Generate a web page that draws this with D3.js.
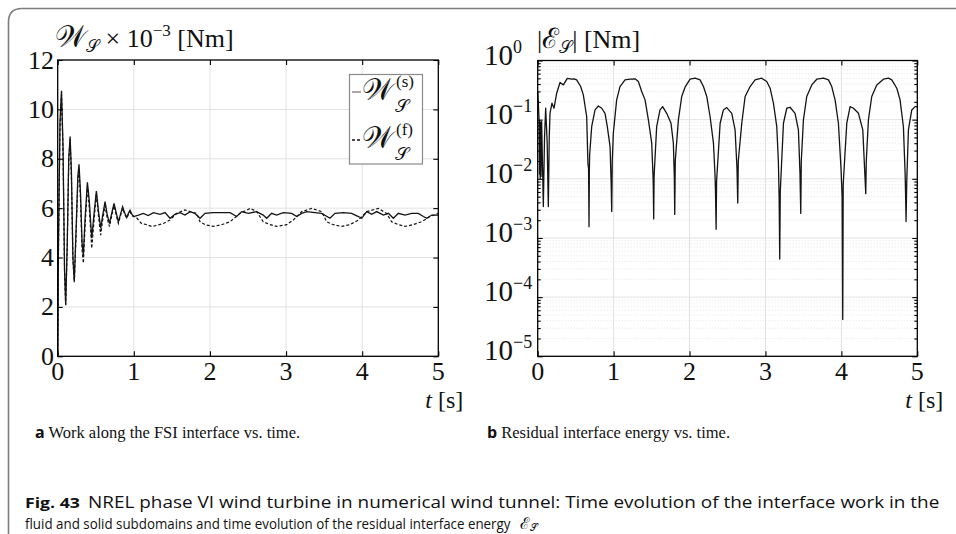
<!DOCTYPE html>
<html><head><meta charset="utf-8">
<script src="https://cdn.jsdelivr.net/npm/d3@7"></script>
<style>body{margin:0;background:#fff}svg{display:block}</style>
</head><body>
<svg id="c" width="956" height="534"></svg>
<script>
// ---------------- DATA ----------------
const xTicks = [0, 1, 2, 3, 4, 5];
const leftYTicks = [0, 2, 4, 6, 8, 10, 12];
const rightYExponents = [0, -1, -2, -3, -4, -5];

// Work on solid side, W_S^(s) x 1e-3 [Nm]
const solidT = [0,0.01,0.03,0.05,0.07,0.09,0.105,0.125,0.145,0.163,0.18,0.2,0.218,0.24,0.265,0.28,0.3,0.32,0.337,0.36,0.39,0.415,0.447,0.475,0.508,0.535,0.565,0.59,0.622,0.65,0.68,0.71,0.74,0.77,0.797,0.825,0.853,0.88,0.907,0.93,0.95,0.975,
 1.0,1.06,1.125,1.19,1.257,1.345,1.41,1.475,1.54,1.607,1.672,1.74,1.8,1.87,1.935,2.045,2.155,2.264,2.351,2.417,2.504,2.614,2.7,2.746,2.81,2.876,2.964,3.074,3.14,3.205,3.27,3.38,3.468,3.577,3.643,3.753,3.862,3.95,3.994,4.06,4.125,4.19,4.28,4.344,4.41,4.475,4.563,4.65,4.738,4.804,4.848,4.914,5.0];
const solidV = [0,4.5,9.5,10.75,8.5,3.5,2.07,4.5,8.0,8.9,7.5,4.0,3.05,5.0,7.3,7.78,6.6,4.6,4.1,5.6,7.05,6.3,4.78,5.7,6.69,5.9,5.18,5.7,6.26,5.75,5.38,5.8,6.19,5.8,5.45,5.75,6.06,5.8,5.62,5.8,5.92,5.75,
 5.66,5.72,5.79,5.70,5.82,5.75,5.82,5.59,5.75,5.82,5.72,5.86,5.79,5.59,5.79,5.82,5.82,5.82,5.66,5.86,5.79,5.86,5.72,5.59,5.79,5.72,5.82,5.79,5.66,5.79,5.86,5.82,5.79,5.59,5.79,5.82,5.79,5.66,5.59,5.86,5.75,5.86,5.72,5.79,5.59,5.79,5.72,5.79,5.79,5.66,5.59,5.72,5.72];

// Work on fluid side, W_S^(f) x 1e-3 [Nm]
const fluidT = [0,0.01,0.03,0.05,0.07,0.09,0.105,0.125,0.145,0.163,0.18,0.2,0.218,0.24,0.265,0.28,0.3,0.32,0.337,0.36,0.39,0.415,0.447,0.475,0.508,0.535,0.565,0.59,0.622,0.65,0.68,0.71,0.74,0.77,0.797,0.825,0.853,0.88,0.907,0.93,0.95,0.975,
 1.0,1.04,1.1,1.17,1.235,1.3,1.388,1.475,1.563,1.672,1.74,1.826,1.87,1.935,2.045,2.155,2.264,2.395,2.53,2.614,2.7,2.79,2.876,3.008,3.096,3.205,3.337,3.468,3.534,3.62,3.73,3.84,3.95,4.06,4.212,4.32,4.387,4.475,4.563,4.67,4.78,4.89,5.0];
const fluidV = [0,4.3,9.3,10.6,8.3,3.4,2.1,4.4,7.9,8.8,7.3,3.9,3.0,4.8,7.1,7.6,6.3,4.3,3.77,5.3,6.9,6.0,4.37,5.4,6.6,5.7,4.91,5.5,6.1,5.6,5.25,5.7,6.1,5.7,5.38,5.7,6.0,5.75,5.6,5.75,5.85,5.7,
 5.66,5.6,5.38,5.33,5.26,5.30,5.38,5.52,5.79,5.93,5.86,5.79,5.45,5.33,5.26,5.33,5.45,5.79,5.99,5.86,5.45,5.33,5.26,5.33,5.52,5.86,5.99,5.86,5.45,5.33,5.26,5.33,5.52,5.86,5.99,5.79,5.45,5.33,5.26,5.33,5.45,5.66,5.79];

// Residual interface energy |E_S| [Nm]
const resT = [0,0.006,0.018,0.024,0.028,0.033,0.038,0.044,0.052,0.074,0.09,0.105,0.125,0.14,0.152,0.162,0.188,0.215,0.25,0.294,0.338,0.39,0.447,0.48,0.513,0.566,0.601,0.645,0.662,0.67,0.676,0.68,0.684,
 0.711,0.755,0.799,0.843,0.887,0.917,0.953,0.968,0.975,0.982,
 0.996,1.04,1.084,1.15,1.216,1.282,1.326,1.37,1.414,1.458,1.502,1.518,1.522,1.528,1.533,
 1.567,1.611,1.646,1.699,1.756,1.787,1.8,1.805,1.812,
 1.853,1.897,1.941,2.007,2.073,2.139,2.183,2.227,2.271,2.315,2.335,2.342,2.35,2.356,
 2.403,2.446,2.49,2.556,2.6,2.625,2.635,2.642,
 2.688,2.732,2.798,2.863,2.951,3.017,3.061,3.105,3.149,3.17,3.18,3.188,3.195,
 3.237,3.281,3.324,3.39,3.434,3.455,3.465,3.472,
 3.5,3.544,3.61,3.676,3.764,3.83,3.873,3.917,3.961,3.995,4.01,4.018,4.024,
 4.071,4.115,4.159,4.225,4.282,4.312,4.321,4.328,
 4.356,4.4,4.466,4.554,4.62,4.664,4.73,4.773,4.817,4.84,4.845,4.852,4.857,4.862,
 4.883,4.927,4.971,5.0];
const resV = [0.30,0.22,0.10,0.012,0.095,0.010,0.09,0.011,0.093,0.0034,0.05,0.156,0.04,0.0034,0.05,0.128,0.19,0.156,0.28,0.425,0.387,0.50,0.483,0.49,0.471,0.363,0.262,0.113,0.018,0.015,0.00155,0.0123,0.025,
 0.076,0.146,0.170,0.156,0.128,0.076,0.035,0.008,0.0028,0.02,
 0.059,0.216,0.363,0.471,0.483,0.49,0.441,0.30,0.216,0.099,0.040,0.012,0.0085,0.0021,0.011,
 0.076,0.146,0.166,0.128,0.087,0.040,0.01,0.0025,0.02,
 0.099,0.246,0.354,0.483,0.502,0.471,0.363,0.246,0.112,0.040,0.012,0.006,0.0014,0.009,
 0.087,0.146,0.16,0.128,0.067,0.015,0.0039,0.02,
 0.087,0.246,0.363,0.471,0.502,0.441,0.34,0.19,0.076,0.02,0.005,0.00044,0.006,
 0.087,0.156,0.162,0.128,0.067,0.012,0.0026,0.02,
 0.099,0.246,0.387,0.483,0.502,0.471,0.363,0.216,0.087,0.015,0.005,0.000042,0.008,
 0.087,0.166,0.156,0.128,0.067,0.01,0.0056,0.02,
 0.099,0.246,0.387,0.483,0.502,0.471,0.34,0.216,0.076,0.012,0.006,0.0019,0.0045,0.01,
 0.067,0.146,0.166,0.166];

// ---------------- DRAWING ----------------
const svg = d3.select("#c");
const SERIF = "'Liberation Serif','DejaVu Serif',serif";
const SANS = "'Open Sans','Noto Sans',sans-serif";
const INK = "#141414";

// outer frame of the figure
svg.append("path")
  .attr("d", "M8.5,534 L8.5,22 Q8.5,8.5 22,8.5 L956,8.5")
  .attr("fill", "none").attr("stroke", "#7d7d7d").attr("stroke-width", 1.6);

const L = {x0: 57.7, x1: 438.3, y0: 356.3, y1: 60};
const R = {x0: 537.7, x1: 917.3, y0: 356.3, y1: 60.5};
const xL = d3.scaleLinear([0, 5], [L.x0, L.x1]);
const yL = d3.scaleLinear([0, 12], [L.y0, L.y1]);
const xR = d3.scaleLinear([0, 5], [R.x0, R.x1]);
const yR = d3.scaleLog([1e-5, 1], [R.y0, R.y1]);

// ---- grids ----
const grid = svg.append("g").attr("stroke", "#e2e2e2").attr("stroke-width", 1);
grid.selectAll(".gvl").data(xTicks.slice(1, -1)).join("line")
  .attr("x1", d => xL(d)).attr("x2", d => xL(d)).attr("y1", L.y0).attr("y2", L.y1);
grid.selectAll(".ghl").data(leftYTicks.slice(1, -1)).join("line").attr("class","ghl")
  .attr("x1", L.x0).attr("x2", L.x1).attr("y1", d => yL(d)).attr("y2", d => yL(d));

const minorVals = [];
for (let e = -5; e < 0; e++) for (let m = 2; m <= 9; m++) minorVals.push(m * Math.pow(10, e));
svg.append("g").attr("stroke", "#e4e4e4").attr("stroke-width", 1).attr("stroke-dasharray", "1,2")
  .selectAll("line").data(minorVals).join("line")
  .attr("x1", R.x0).attr("x2", R.x1).attr("y1", d => yR(d)).attr("y2", d => yR(d));
const gridR = svg.append("g").attr("stroke", "#e2e2e2").attr("stroke-width", 1);
gridR.selectAll(".gvr").data(xTicks.slice(1, -1)).join("line").attr("class","gvr")
  .attr("x1", d => xR(d)).attr("x2", d => xR(d)).attr("y1", R.y0).attr("y2", R.y1);
gridR.selectAll(".ghr").data(rightYExponents.slice(1, -1)).join("line").attr("class","ghr")
  .attr("x1", R.x0).attr("x2", R.x1).attr("y1", d => yR(Math.pow(10, d))).attr("y2", d => yR(Math.pow(10, d)));

// ---- data lines ----
const lineL = d3.line().x(d => xL(d[0])).y(d => yL(d[1]));
const lineR = d3.line().x(d => xR(d[0])).y(d => yR(d[1]));
svg.append("path").datum(fluidT.map((t, i) => [t, fluidV[i]])).attr("d", lineL)
  .attr("fill", "none").attr("stroke", INK).attr("stroke-width", 1.2).attr("stroke-dasharray", "3,2");
svg.append("path").datum(solidT.map((t, i) => [t, solidV[i]])).attr("d", lineL)
  .attr("fill", "none").attr("stroke", INK).attr("stroke-width", 1.3);
svg.append("path").datum(resT.map((t, i) => [t, resV[i]])).attr("d", lineR)
  .attr("fill", "none").attr("stroke", INK).attr("stroke-width", 1.3).attr("stroke-linejoin", "round");

// ---- axes (inward ticks on all sides) ----
function styleAxis(g) {
  g.select(".domain").remove();
  g.selectAll(".tick line").attr("stroke", "#000").attr("stroke-width", 1.1);
}
const TK = 5;
svg.append("g").attr("transform", `translate(0,${L.y0})`)
  .call(d3.axisBottom(xL).tickValues(xTicks).tickSize(-TK).tickFormat("")).call(styleAxis);
svg.append("g").attr("transform", `translate(0,${L.y1})`)
  .call(d3.axisTop(xL).tickValues(xTicks).tickSize(-TK).tickFormat("")).call(styleAxis);
svg.append("g").attr("transform", `translate(${L.x0},0)`)
  .call(d3.axisLeft(yL).tickValues(leftYTicks).tickSize(-TK).tickFormat("")).call(styleAxis);
svg.append("g").attr("transform", `translate(${L.x1},0)`)
  .call(d3.axisRight(yL).tickValues(leftYTicks).tickSize(-TK).tickFormat("")).call(styleAxis);

svg.append("g").attr("transform", `translate(0,${R.y0})`)
  .call(d3.axisBottom(xR).tickValues(xTicks).tickSize(-TK).tickFormat("")).call(styleAxis);
svg.append("g").attr("transform", `translate(0,${R.y1})`)
  .call(d3.axisTop(xR).tickValues(xTicks).tickSize(-TK).tickFormat("")).call(styleAxis);
const majorR = rightYExponents.map(e => Math.pow(10, e));
[["L", R.x0, d3.axisLeft], ["R", R.x1, d3.axisRight]].forEach(([k, x, ax]) => {
  svg.append("g").attr("transform", `translate(${x},0)`)
    .call(ax(yR).tickValues(majorR).tickSize(-TK).tickFormat("")).call(styleAxis);
  svg.append("g").attr("transform", `translate(${x},0)`)
    .call(ax(yR).tickValues(minorVals).tickSize(-3).tickFormat("")).call(styleAxis);
});

// plot boxes
svg.append("rect").attr("x", L.x0).attr("y", L.y1).attr("width", L.x1 - L.x0).attr("height", L.y0 - L.y1)
  .attr("fill", "none").attr("stroke", "#000").attr("stroke-width", 1.3);
svg.append("rect").attr("x", R.x0).attr("y", R.y1).attr("width", R.x1 - R.x0).attr("height", R.y0 - R.y1)
  .attr("fill", "none").attr("stroke", "#000").attr("stroke-width", 1.3);

// ---- tick labels ----
const tl = svg.append("g").attr("font-family", SERIF).attr("fill", "#111");
tl.selectAll(".xl").data(xTicks).join("text").attr("class","xl")
  .attr("x", d => xL(d)).attr("y", 380).attr("text-anchor", "middle").attr("font-size", 26).text(d => d);
tl.selectAll(".xr").data(xTicks).join("text").attr("class","xr")
  .attr("x", d => xR(d)).attr("y", 380).attr("text-anchor", "middle").attr("font-size", 26).text(d => d);
tl.selectAll(".yl").data(leftYTicks).join("text").attr("class","yl")
  .attr("x", 54).attr("y", d => yL(d) + 8.5).attr("text-anchor", "end").attr("font-size", 26).text(d => d);
const yrl = tl.selectAll(".yr").data(rightYExponents).join("text").attr("class","yr")
  .attr("x", 484).attr("y", d => yR(Math.pow(10, d)) + 4).attr("font-size", 29);
yrl.append("tspan").text("10");
yrl.append("tspan").attr("dy", -12).attr("font-size", 18).text(d => d < 0 ? "\u2212" + (-d) : d);

// axis name labels
[[L.x1 + 25, 408], [R.x1 + 26, 408]].forEach(([x, y]) => {
  const t = svg.append("text").attr("x", x).attr("y", y).attr("text-anchor", "end")
    .attr("font-family", SERIF).attr("font-size", 24).attr("fill", "#111");
  t.append("tspan").attr("font-style", "italic").text("t");
  t.append("tspan").text(" [s]");
});

// titles
const ttl = svg.append("text").attr("x", 55).attr("y", 47).attr("font-family", SERIF).attr("font-size", 26).attr("fill", "#111");
ttl.append("tspan").attr("font-size", 30).text("\u{1D4B2}");
ttl.append("tspan").attr("font-size", 17).attr("dy", 5).text("\u{1D4AE}");
ttl.append("tspan").attr("dy", -5).text(" \u00D7 10");
ttl.append("tspan").attr("font-size", 17).attr("dy", -11).text("\u22123");
ttl.append("tspan").attr("dy", 11).text("  [Nm]");

const ttr = svg.append("text").attr("x", 537).attr("y", 48).attr("font-family", SERIF).attr("font-size", 26).attr("fill", "#111");
ttr.append("tspan").text("|");
ttr.append("tspan").attr("font-size", 28).text("\u2130");
ttr.append("tspan").attr("font-size", 17).attr("dy", 5).text("\u{1D4AE}");
ttr.append("tspan").attr("dy", -5).text("|  [Nm]");

// ---- legend ----
const lg = svg.append("g");
lg.append("rect").attr("x", 349.5).attr("y", 74.5).attr("width", 73).attr("height", 89.5)
  .attr("fill", "#fff").attr("stroke", "#8a8a8a").attr("stroke-width", 1.2);
const legendItems = [{tag: "(s)", dash: null, y: 100}, {tag: "(f)", dash: "3,2", y: 148}];
legendItems.forEach(it => {
  lg.append("line").attr("x1", 352).attr("x2", 361).attr("y1", it.y - 8).attr("y2", it.y - 8)
    .attr("stroke", it.dash ? INK : "#777").attr("stroke-width", 1.3).attr("stroke-dasharray", it.dash);
  const t = lg.append("text").attr("font-family", SERIF).attr("fill", "#111");
  t.append("tspan").attr("x", 362).attr("y", it.y).attr("font-size", 30).text("\u{1D4B2}");
  t.append("tspan").attr("x", 396).attr("y", it.y - 13).attr("font-size", 17).text(it.tag);
  t.append("tspan").attr("x", 395).attr("y", it.y + 12).attr("font-size", 18).text("\u{1D4AE}");
});

// ---- captions ----
const capA = svg.append("text").attr("x", 35).attr("y", 438).attr("fill", "#111");
capA.append("tspan").attr("font-family", SANS).attr("font-weight", "bold").attr("font-size", 16).text("a");
capA.append("tspan").attr("font-family", SERIF).attr("font-size", 16.5).text(" Work along the FSI interface vs. time.");
const capB = svg.append("text").attr("x", 487).attr("y", 438).attr("fill", "#111");
capB.append("tspan").attr("font-family", SANS).attr("font-weight", "bold").attr("font-size", 16).text("b");
capB.append("tspan").attr("font-family", SERIF).attr("font-size", 16.5).text(" Residual interface energy vs. time.");

// condensed sans caption: measure natural width, then squeeze horizontally to the target width
function squeezed(x, y, width, size, weight, str) {
  const g = svg.append("g");
  const t = g.append("text").attr("x", 0).attr("y", 0).attr("fill", "#111")
    .attr("font-family", SANS).attr("font-size", size).attr("font-weight", weight).text(str);
  const w = t.node().getComputedTextLength() || width;
  g.attr("transform", `translate(${x},${y}) scale(${width / w},1)`);
}
squeezed(25, 508, 55, 15, "bold", "Fig. 43");
squeezed(88, 508, 852, 15.5, "normal", "NREL phase VI wind turbine in numerical wind tunnel: Time evolution of the interface work in the");
squeezed(25, 529, 486, 15, "normal", "fluid and solid subdomains and time evolution of the residual interface energy");
const f2 = svg.append("text").attr("x", 520).attr("y", 529).attr("fill", "#111").attr("font-family", SERIF).attr("font-size", 16);
f2.append("tspan").text("\u2130");
f2.append("tspan").attr("font-size", 10).attr("dy", 2).text("\u{1D4AE}");
</script>
</body></html>
